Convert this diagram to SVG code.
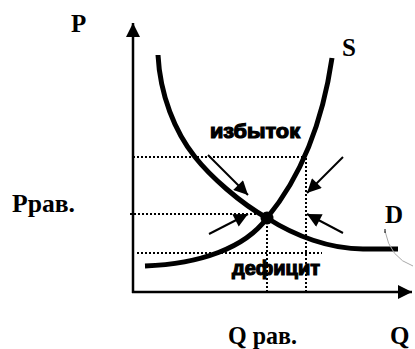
<svg xmlns="http://www.w3.org/2000/svg" width="415" height="349" viewBox="0 0 415 349">
<style>
.lbl{font-family:"Liberation Serif","Times New Roman",serif;font-weight:bold;font-size:25px;fill:#000}
.zone{font-family:"Liberation Sans",Arial,sans-serif;font-weight:bold;font-size:20px;fill:#000;stroke:#000;stroke-width:1.2}
.axis{stroke:#000;stroke-width:2.5;fill:none}
.curve{stroke:#000;stroke-width:5;fill:none;stroke-linecap:butt}
.dot{stroke:#000;stroke-width:2;stroke-dasharray:2,2;fill:none}
.arr{stroke:#000;stroke-width:2;fill:none}
</style>
<defs>
<marker id="ah" viewBox="0 0 10 10" refX="10" refY="5" markerUnits="userSpaceOnUse" markerWidth="17" markerHeight="14" orient="auto">
<path d="M0,0 L10,5 L0,10 z" fill="#000"/>
</marker>
<marker id="axh" viewBox="0 0 10 10" refX="10" refY="5" markerUnits="userSpaceOnUse" markerWidth="15" markerHeight="14" orient="auto">
<path d="M0,0 L10,5 L0,10 z" fill="#000"/>
</marker>
</defs>
<g id="axes">
<line class="axis" x1="133" y1="293" x2="133" y2="23" marker-end="url(#axh)"/>
<line class="axis" x1="132" y1="292" x2="412" y2="292" marker-end="url(#axh)"/>
</g>
<g id="guides">
<line class="dot" x1="133" y1="157" x2="305" y2="157"/>
<line class="dot" x1="130" y1="214" x2="262" y2="214"/>
<line class="dot" x1="137" y1="253" x2="322" y2="253"/>
<line class="dot" x1="267" y1="222" x2="267" y2="292"/>
<line class="dot" x1="306" y1="158" x2="306" y2="292"/>
</g>
<g id="demand">
<path class="curve" d="M158,55 C160,95 175,132 195,157 C210,176 240,203 267,218 C295,236 330,249 363,249 L398,249"/>
</g>
<g id="supply">
<path class="curve" d="M145,266 C200,264 245,248 267,218 C290,190 320,140 332,58"/>
</g>
<g id="equilibrium">
<circle cx="267" cy="218" r="6.5" fill="#000"/>
</g>
<g id="connectors">
<line class="arr" x1="208" y1="155" x2="248" y2="195" marker-end="url(#ah)"/>
<line class="arr" x1="343" y1="157" x2="307" y2="193" marker-end="url(#ah)"/>
<line class="arr" x1="209" y1="234" x2="248" y2="214" marker-end="url(#ah)"/>
<line class="arr" x1="343" y1="233" x2="307" y2="214" marker-end="url(#ah)"/>
</g>
<g id="mark">
<path d="M385,231 Q390,258 413,266" stroke="#aaa" stroke-width="1" fill="none"/>
<line x1="385" y1="229" x2="385" y2="233" stroke="#000" stroke-width="1"/>
</g>
<g id="labels">
<text class="lbl" x="71" y="32">P</text>
<text class="lbl" x="342" y="56">S</text>
<text class="lbl" x="385" y="223">D</text>
<text class="lbl" x="12" y="212" textLength="63" lengthAdjust="spacingAndGlyphs">Pрав.</text>
<text class="lbl" x="228" y="344" textLength="69" lengthAdjust="spacingAndGlyphs">Q рав.</text>
<text class="lbl" x="390" y="344">Q</text>
<text class="zone" x="210" y="138" textLength="90" lengthAdjust="spacingAndGlyphs">избыток</text>
<text class="zone" x="232" y="275" textLength="88" lengthAdjust="spacingAndGlyphs">дефицит</text>
</g>
</svg>
